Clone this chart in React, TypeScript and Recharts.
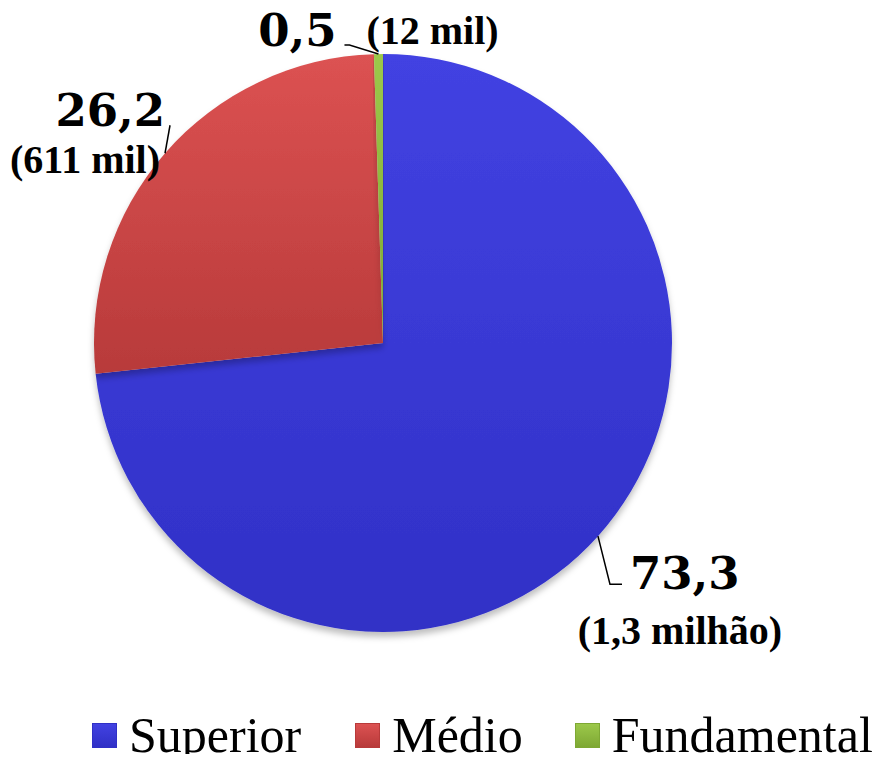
import React from 'react';
import { PieChart, Pie, Cell, Legend } from 'recharts';

const categories = ['Superior', 'Médio', 'Fundamental'];
const shares = [73.3, 26.2, 0.5];
const shareLabels = ['73,3', '26,2', '0,5'];
const countLabels = ['(1,3 milhão)', '(611 mil)', '(12 mil)'];

const data = categories.map((name, i) => ({
    name,
    value: shares[i],
    share: shareLabels[i],
    count: countLabels[i],
}));

// top / bottom colours for each slice gradient
const colors = [
    ['#4242e2', '#3030c6'],
    ['#dc5252', '#b83a3a'],
    ['#9cc84a', '#7ea834'],
];

// label placement relative to the slice's outer edge point
const labelLayout = [
    { line: [[12, 48], [24, 48]], big: [32, 53, 'start'], small: [82, 108, 'middle'] },
    { line: [[5, -28]], big: [0, -27, 'end'], small: [-5, 20, 'end'] },
    { line: [[-29, -9], [-34, -9]], big: [-42, -8, 'end'], small: [-12, -10, 'start'] },
];

const RAD = Math.PI / 180;
const BIG_FONT = '"DejaVu Serif", serif';
const SMALL_FONT = '"Liberation Serif", serif';

function renderLabel(props: any) {
    const { cx, cy, midAngle, outerRadius, index } = props;
    const ex = cx + outerRadius * Math.cos(-midAngle * RAD);
    const ey = cy + outerRadius * Math.sin(-midAngle * RAD);
    const lay = labelLayout[index];
    const pts = [[ex, ey], ...lay.line.map(([dx, dy]) => [ex + dx, ey + dy])];
    const d = pts.map((p, i) => `${i ? 'L' : 'M'}${p[0]},${p[1]}`).join(' ');
    return (
        <g key={`lbl-${index}`}>
            <path d={d} stroke="#000" strokeWidth={1.5} fill="none" />
            <text
                x={ex + (lay.big[0] as number)}
                y={ey + (lay.big[1] as number)}
                textAnchor={lay.big[2] as any}
                fontFamily={BIG_FONT}
                fontWeight="bold"
                fontSize={45}
                fill="#000"
            >
                {data[index].share}
            </text>
            <text
                x={ex + (lay.small[0] as number)}
                y={ey + (lay.small[1] as number)}
                textAnchor={lay.small[2] as any}
                fontFamily={SMALL_FONT}
                fontWeight="bold"
                fontSize={40}
                fill="#000"
            >
                {data[index].count}
            </text>
        </g>
    );
}

function renderLegend() {
    return (
        <div style={{ display: 'flex', alignItems: 'center', paddingLeft: 92 }}>
            {categories.map((name, i) => (
                <div key={name} style={{ display: 'flex', alignItems: 'center', marginRight: i === 0 ? 54 : 52 }}>
                    <span
                        style={{
                            width: 25,
                            height: 25,
                            marginRight: 12,
                            boxSizing: 'border-box',
                            border: `1px solid ${colors[i][1]}`,
                            background: `linear-gradient(to bottom, ${colors[i][0]}, ${colors[i][1]})`,
                            display: 'inline-block',
                        }}
                    />
                    <span
                        style={{
                            fontFamily: '"Liberation Serif", serif',
                            fontSize: 50,
                            color: '#000',
                            lineHeight: '50px',
                        }}
                    >
                        {name}
                    </span>
                </div>
            ))}
        </div>
    );
}

export default function App() {
    return (
        <div style={{ margin: -8, width: 885, height: 762, background: '#fff', overflow: 'hidden' }}>
            <PieChart width={885} height={762} margin={{ top: 0, right: 0, bottom: 0, left: 0 }}>
                <defs>
                    {colors.map((c, i) => (
                        <linearGradient key={i} id={`grad-${i}`} x1="0" y1="0" x2="0" y2="1">
                            <stop offset="0%" stopColor={c[0]} />
                            <stop offset="100%" stopColor={c[1]} />
                        </linearGradient>
                    ))}
                    <filter id="shadow" x="-10%" y="-10%" width="120%" height="125%">
                        <feDropShadow dx="0" dy="5" stdDeviation="3" floodColor="#000" floodOpacity="0.25" />
                    </filter>
                </defs>
                <Pie
                    data={data}
                    dataKey="value"
                    nameKey="name"
                    cx={383}
                    cy={343}
                    outerRadius={289}
                    startAngle={90}
                    endAngle={-270}
                    stroke="none"
                    label={renderLabel}
                    labelLine={false}
                    isAnimationActive={false}
                    style={{ filter: 'url(#shadow)' }}
                >
                    {data.map((d, i) => (
                        <Cell key={d.name} fill={`url(#grad-${i})`} />
                    ))}
                </Pie>
                <Legend
                    content={renderLegend}
                    wrapperStyle={{ position: 'absolute', top: 710, left: 0, width: 885 }}
                />
            </PieChart>
        </div>
    );
}
